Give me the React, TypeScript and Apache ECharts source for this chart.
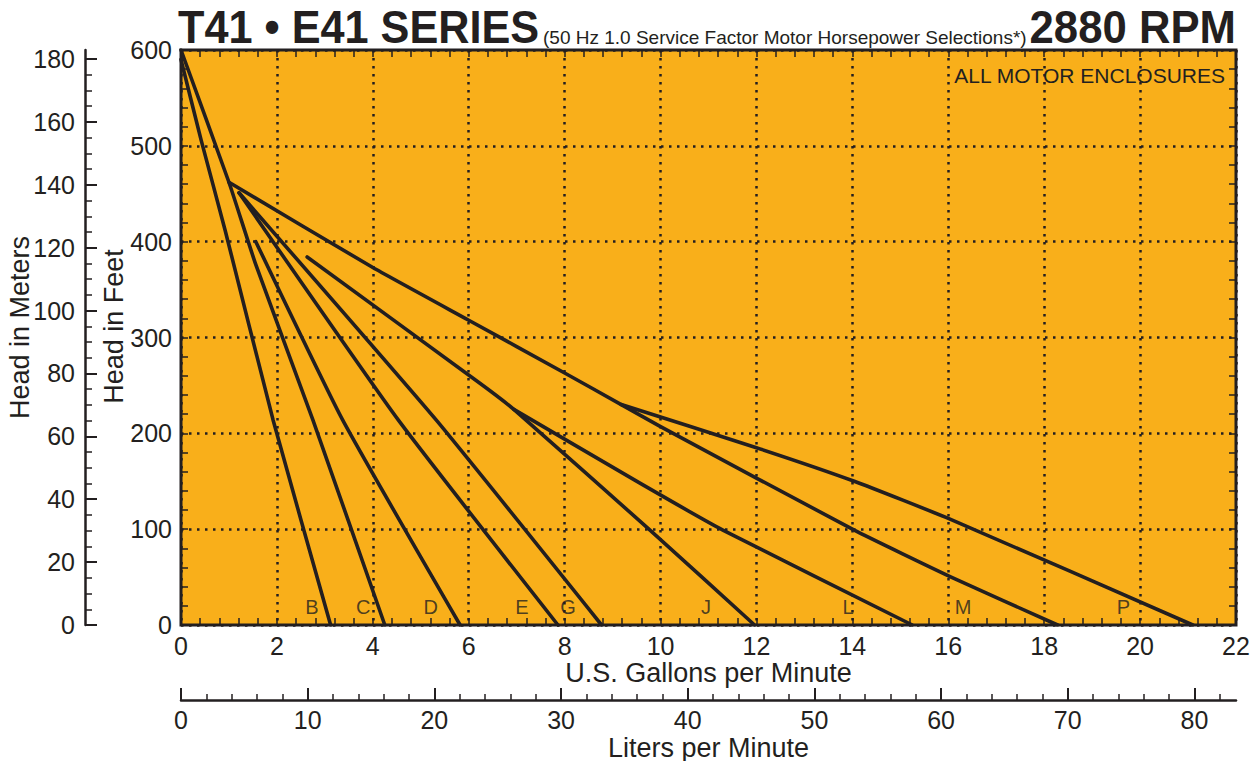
import React, { useEffect, useRef } from "react";
import * as echarts from "echarts";

// ---- data (U.S. gallons per minute, head in feet) ----
const curveNames = ["B", "C", "D", "E", "G", "J", "L", "M", "P"];
const curveB = [[0, 590], [0.42, 506], [0.92, 412], [1.92, 214], [3.12, 0]];
const curveC = [[0, 600], [1.0, 462], [1.56, 376], [2.75, 214], [4.25, 0]];
const curveD = [[1.56, 400], [3.37, 214], [5.82, 0]];
const curveE = [[1.21, 451], [4.53, 214], [7.86, 0]];
const curveG = [[1.21, 451], [5.32, 214], [8.77, 0]];
const curveJ = [[2.63, 384], [6.24, 252], [6.94, 225], [9.78, 99], [11.96, 0]];
const curveL = [[6.94, 225], [9.57, 148], [11.3, 99], [15.25, 0]];
const curveM = [[1.0, 462], [4.0, 373], [6.0, 318], [8.0, 263], [9.18, 230], [10.0, 207], [14.04, 99], [16.06, 50], [18.28, 0]];
const curveP = [[9.18, 230], [12.0, 185], [14.04, 150], [16.06, 110], [21.1, 0]];
const curveData = [curveB, curveC, curveD, curveE, curveG, curveJ, curveL, curveM, curveP];

const labelGpm = [2.73, 3.8, 5.21, 7.11, 8.07, 10.95, 13.91, 16.31, 19.65];
const labelHead = 18.8;

const gpmMax = 22;
const feetMax = 600;
const literMax = gpmMax * 3.785411784;
const meterMax = feetMax * 0.3048;

const literMajor = [0, 10, 20, 30, 40, 50, 60, 70, 80];
const literMinor = [0, 2, 4, 6, 8, 10, 12, 14, 16, 18, 20, 22, 24, 26, 28, 30, 32, 34, 36, 38, 40, 42, 44, 46, 48, 50, 52, 54, 56, 58, 60, 62, 64, 66, 68, 70, 72, 74, 76, 78, 80, 82];
const meterMajor = [0, 20, 40, 60, 80, 100, 120, 140, 160, 180];
const meterMinor = [0, 5, 10, 15, 20, 25, 30, 35, 40, 45, 50, 55, 60, 65, 70, 75, 80, 85, 90, 95, 100, 105, 110, 115, 120, 125, 130, 135, 140, 145, 150, 155, 160, 165, 170, 175, 180];

const ink = "#231f20";
const orange = "#f9af1a";
const fontFam = "'Liberation Sans', Arial, Helvetica, sans-serif";

const G = { left: 181, top: 50, width: 1055, height: 575, containLabel: false, outerBoundsMode: "none" };

const tickStyle = { color: ink, width: 1.5 };
const dotted = { color: ink, width: 2.5, type: [2.5, 5.5] };
const labelStyle = { color: ink, fontSize: 25, fontFamily: fontFam };
const nameStyle = { color: ink, fontSize: 27, fontFamily: fontFam };

function buildOption() {
  return {
    animation: false,
    backgroundColor: "#ffffff",
    grid: [
      { ...G, show: true, backgroundColor: orange, borderColor: ink, borderWidth: 3 },
      { ...G, show: false },
      { ...G, show: false },
    ],
    xAxis: [
      {
        type: "value", gridIndex: 0, position: "bottom", min: 0, max: gpmMax, interval: 2,
        axisLine: { show: false, onZero: false },
        axisTick: { show: true, inside: true, length: 7, lineStyle: tickStyle },
        minorTick: { show: true, splitNumber: 5, length: 7, lineStyle: tickStyle },
        axisLabel: { ...labelStyle, margin: 8 },
        splitLine: { show: true, lineStyle: dotted },
        name: "U.S. Gallons per Minute", nameLocation: "middle", nameGap: 34, nameMoveOverlap: false,
        nameTextStyle: nameStyle,
      },
      {
        type: "value", gridIndex: 0, position: "top", min: 0, max: gpmMax, interval: 2,
        axisLine: { show: false, onZero: false },
        axisTick: { show: true, inside: true, length: 7, lineStyle: tickStyle },
        minorTick: { show: true, splitNumber: 5, length: 7, lineStyle: tickStyle },
        axisLabel: { show: false },
        splitLine: { show: false },
      },
      {
        type: "value", gridIndex: 1, position: "bottom", offset: 75, min: 0, max: literMax,
        axisLine: { show: true, onZero: false, lineStyle: { color: ink, width: 2.5 } },
        axisTick: { show: true, inside: true, length: 12, lineStyle: { color: ink, width: 2 }, customValues: literMajor },
        axisLabel: { ...labelStyle, margin: 7, customValues: literMajor },
        splitLine: { show: false },
        name: "Liters per Minute", nameLocation: "middle", nameGap: 34, nameMoveOverlap: false,
        nameTextStyle: nameStyle,
      },
      {
        type: "value", gridIndex: 2, position: "bottom", offset: 75, min: 0, max: literMax,
        axisLine: { show: false, onZero: false },
        axisTick: { show: true, inside: true, length: 6, lineStyle: tickStyle, customValues: literMinor },
        axisLabel: { show: false },
        splitLine: { show: false },
      },
    ],
    yAxis: [
      {
        type: "value", gridIndex: 0, position: "left", min: 0, max: feetMax, interval: 100,
        axisLine: { show: false, onZero: false },
        axisTick: { show: true, inside: true, length: 7, lineStyle: tickStyle },
        minorTick: { show: true, splitNumber: 5, length: 7, lineStyle: tickStyle },
        axisLabel: { ...labelStyle, margin: 9 },
        splitLine: { show: true, lineStyle: dotted },
        name: "Head in Feet", nameLocation: "middle", nameGap: 54, nameMoveOverlap: false,
        nameTextStyle: { ...nameStyle, padding: [0, 0, 0, 22] },
      },
      {
        type: "value", gridIndex: 0, position: "right", min: 0, max: feetMax, interval: 100,
        axisLine: { show: false, onZero: false },
        axisTick: { show: true, inside: true, length: 7, lineStyle: tickStyle },
        minorTick: { show: true, splitNumber: 5, length: 7, lineStyle: tickStyle },
        axisLabel: { show: false },
        splitLine: { show: false },
      },
      {
        type: "value", gridIndex: 1, position: "left", offset: 96, min: 0, max: meterMax,
        axisLine: { show: true, onZero: false, lineStyle: { color: ink, width: 2.5 } },
        axisTick: { show: true, inside: true, length: 12, lineStyle: { color: ink, width: 2 }, customValues: meterMajor },
        axisLabel: { ...labelStyle, margin: 10, customValues: meterMajor },
        splitLine: { show: false },
        name: "Head in Meters", nameLocation: "middle", nameGap: 52, nameMoveOverlap: false,
        nameTextStyle: { ...nameStyle, padding: [0, 0, 0, 20] },
      },
      {
        type: "value", gridIndex: 2, position: "left", offset: 96, min: 0, max: meterMax,
        axisLine: { show: false, onZero: false },
        axisTick: { show: true, inside: true, length: 7, lineStyle: tickStyle, customValues: meterMinor },
        axisLabel: { show: false },
        splitLine: { show: false },
      },
    ],
    series: [
      ...curveData.map((d, i) => ({
        type: "line",
        name: curveNames[i],
        xAxisIndex: 0,
        yAxisIndex: 0,
        data: d,
        symbol: "none",
        smooth: 0.15,
        silent: true,
        lineStyle: { color: ink, width: 3.6, cap: "round", join: "round" },
        z: 5,
      })),
      {
        type: "scatter",
        xAxisIndex: 0,
        yAxisIndex: 0,
        symbolSize: 0,
        silent: true,
        data: labelGpm.map((x, i) => [x, labelHead, curveNames[i]]),
        label: {
          show: true,
          position: "inside",
          formatter: (p: any) => p.data[2],
          color: ink,
          fontSize: 20,
          fontFamily: fontFam,
        },
        z: 6,
      },
    ],
    graphic: [
      {
        type: "text", x: 178, y: 27, scaleX: 0.94,
        style: {
          text: "T41 • E41 SERIES", font: `bold 46px ${fontFam}`, fill: ink,
          align: "left", verticalAlign: "middle", textAlign: "left", textVerticalAlign: "middle",
        },
      },
      {
        type: "text", x: 543, y: 37,
        style: {
          text: "(50 Hz 1.0 Service Factor Motor Horsepower Selections*)", font: `19px ${fontFam}`, fill: ink,
          align: "left", verticalAlign: "middle", textAlign: "left", textVerticalAlign: "middle",
        },
      },
      {
        type: "text", x: 1236, y: 27, scaleX: 0.95,
        style: {
          text: "2880 RPM", font: `bold 46px ${fontFam}`, fill: ink,
          align: "right", verticalAlign: "middle", textAlign: "right", textVerticalAlign: "middle",
        },
      },
      {
        type: "text", x: 1225, y: 75,
        style: {
          text: "ALL MOTOR ENCLOSURES", font: `21px ${fontFam}`, fill: ink,
          align: "right", verticalAlign: "middle", textAlign: "right", textVerticalAlign: "middle",
        },
        z: 10,
      },
    ],
  };
}

export default function App() {
  const ref = useRef<HTMLDivElement>(null);
  useEffect(() => {
    if (!ref.current) return;
    const chart = echarts.init(ref.current, undefined, { renderer: "svg" });
    chart.setOption(buildOption() as any);
    return () => chart.dispose();
  }, []);
  return (
    <div
      ref={ref}
      style={{ position: "fixed", left: 0, top: 0, width: 1260, height: 761, background: "#ffffff" }}
    />
  );
}
